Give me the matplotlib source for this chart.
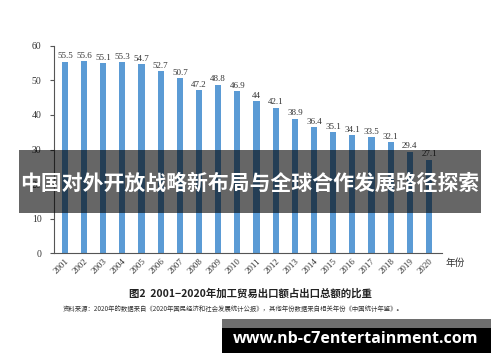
import matplotlib
matplotlib.use("Agg")
import matplotlib.pyplot as plt
from matplotlib.patches import Rectangle

years = [str(y) for y in range(2001, 2021)]
shares = [55.5, 55.6, 55.1, 55.3, 54.7, 52.7, 50.7, 47.2, 48.8, 46.9,
          44, 42.1, 38.9, 36.4, 35.1, 34.1, 33.5, 32.1, 29.4, 27.1]
share_labels = ["55.5", "55.6", "55.1", "55.3", "54.7", "52.7", "50.7", "47.2", "48.8", "46.9",
                "44", "42.1", "38.9", "36.4", "35.1", "34.1", "33.5", "32.1", "29.4", "27.1"]
y_ticks = [0, 10, 20, 30, 40, 50, 60]

title = "中国对外开放战略新布局与全球合作发展路径探索"
caption = "图2  2001−2020年加工贸易出口额占出口总额的比重"
source = "资料来源：2020年的数据来自《2020年国民经济和社会发展统计公报》，其他年份数据来自相关年份《中国统计年鉴》。"
site = "www.nb-c7entertainment.com"

serif = ["Liberation Serif", "Noto Sans CJK SC"]
cjk = ["Noto Sans CJK SC", "DejaVu Sans"]

fig = plt.figure(figsize=(5, 3.62), dpi=100)
ax = fig.add_axes([0.108, 0.301, 0.776, 0.572])

x = range(len(years))
ax.bar(x, shares, width=0.32, color="#5b9bd5", zorder=2)
for i, v in enumerate(shares):
    ax.text(i, v + 0.4, share_labels[i], ha="center", va="bottom",
            fontsize=6.5, family=serif, color="#333333")

ax.set_xlim(-0.57, 19.68)
ax.set_ylim(0, 60)
ax.set_yticks(y_ticks)
ax.set_yticklabels([str(t) for t in y_ticks], family=serif, fontsize=7, color="#333333")
ax.set_xticks(list(x))
ax.set_xticklabels(years, rotation=45, ha="right", rotation_mode="anchor",
                   family=serif, fontsize=6.5, color="#333333")
ax.tick_params(axis="x", length=0, pad=3)
ax.tick_params(axis="y", length=3, width=0.8, color="#555555", pad=6)
for s in ["top", "right"]:
    ax.spines[s].set_visible(False)
for s in ["left", "bottom"]:
    ax.spines[s].set_color("#555555")
    ax.spines[s].set_linewidth(0.8)

fig.text(0.91, 1 - 263 / 362, "年份", family=cjk, fontsize=7, color="#333333",
         ha="center", va="center")

fig.text(0.5, 1 - 293 / 362, caption, family=cjk, fontsize=7.5, weight="bold",
         color="#222222", ha="center", va="center")
fig.text(0.467, 1 - 309 / 362, source, family=cjk, fontsize=4.6,
         color="#333333", ha="center", va="center")

# dark overlay banner across the chart
fig.patches.append(Rectangle((19 / 500, 1 - 213 / 362), 462 / 500, 63 / 362,
                             transform=fig.transFigure, facecolor="black", edgecolor="none",
                             alpha=0.6, zorder=5))
fig.text(0.5, 1 - 183 / 362, title, family=cjk, fontsize=15, weight="bold",
         color="white", ha="center", va="center", zorder=6)

# site banner bottom right
fig.patches.append(Rectangle((222 / 500, 1 - 328 / 362), 269 / 500, 9 / 362,
                             transform=fig.transFigure, facecolor="#6e6e6e",
                             edgecolor="none", zorder=5))
fig.patches.append(Rectangle((222 / 500, 1 - 353 / 362), 269 / 500, 25 / 362,
                             transform=fig.transFigure, facecolor="black",
                             edgecolor="none", zorder=5))
fig.text(356 / 500, 1 - 339 / 362, site, family=["Open Sans", "DejaVu Sans"],
         fontsize=11.5, weight="bold", color="white", ha="center", va="center", zorder=6)

fig.savefig("out.png", dpi=100)
